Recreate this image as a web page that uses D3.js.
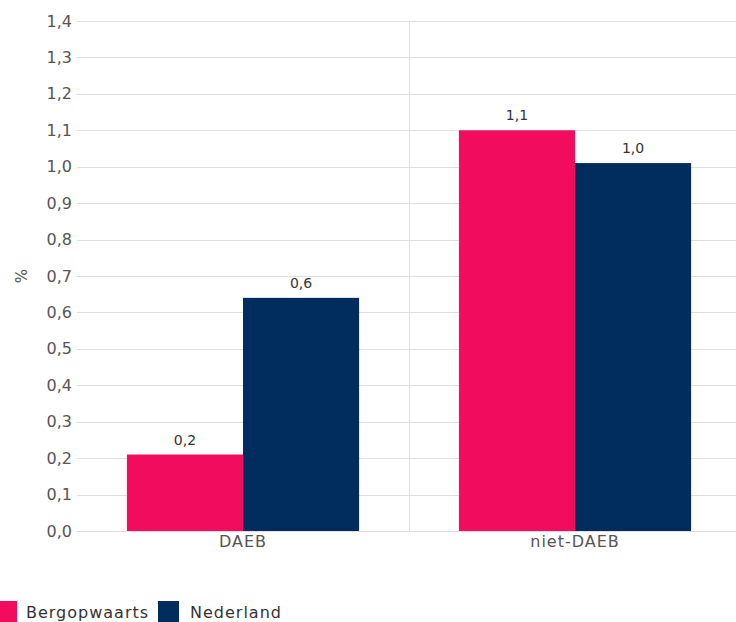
<!DOCTYPE html>
<html>
<head>
<meta charset="utf-8">
<script src="https://cdn.jsdelivr.net/npm/d3@7"></script>
<style>
  body { margin: 0; background: #fff; }
  svg { display: block; font-family: "DejaVu Sans", Verdana, sans-serif; }
</style>
</head>
<body>
<svg id="chart" width="736" height="622"></svg>
<script>
// Categories, series and axis ticks
const categories = ["DAEB", "niet-DAEB"];
const seriesNames = ["Bergopwaarts", "Nederland"];
const bergopwaarts = [0.21, 1.10];
const nederland = [0.64, 1.01];
const yTicks = [0, 0.1, 0.2, 0.3, 0.4, 0.5, 0.6, 0.7, 0.8, 0.9, 1.0, 1.1, 1.2, 1.3, 1.4];
const colors = ["#f20c5e", "#002c5e"];

const rows = categories.map((c, i) => ({ cat: c, values: [bergopwaarts[i], nederland[i]] }));

const svg = d3.select("#chart");
const plot = { left: 77, right: 741, top: 21, bottom: 531 };
const FONT = "DejaVu Sans, Verdana, sans-serif";

const x = d3.scaleBand().domain(categories).range([plot.left, plot.right]);
const xs = d3.scaleBand().domain(seriesNames).range([0, x.bandwidth()]).paddingOuter(0.43).paddingInner(0);
const y = d3.scaleLinear().domain([0, 1.4]).range([plot.bottom, plot.top]);
const fmt = v => d3.format(".1f")(v).replace(".", ",");

// horizontal gridlines
svg.append("g").selectAll("line").data(yTicks).join("line")
  .attr("x1", plot.left).attr("x2", plot.right)
  .attr("y1", d => Math.round(y(d)) + 0.5).attr("y2", d => Math.round(y(d)) + 0.5)
  .attr("stroke", "#e2dede").attr("stroke-width", 1);

// separator between categories
const sepX = Math.round(x("niet-DAEB")) + 0.5;
svg.append("line")
  .attr("x1", sepX).attr("x2", sepX)
  .attr("y1", plot.top).attr("y2", plot.bottom)
  .attr("stroke", "#e2dede");

// y axis labels
const yAxis = d3.axisLeft(y).tickValues(yTicks).tickFormat(fmt).tickSize(0).tickPadding(5);
const gy = svg.append("g").attr("transform", `translate(${plot.left},0)`).call(yAxis);
gy.select(".domain").remove();
gy.selectAll("text").attr("font-size", 16).attr("fill", "#555").attr("font-family", FONT);

// x axis labels
const xAxis = d3.axisBottom(x).tickSize(0).tickPadding(5);
const gx = svg.append("g").attr("transform", `translate(0,${plot.bottom})`).call(xAxis);
gx.select(".domain").remove();
gx.selectAll("text").attr("font-size", 16).attr("letter-spacing", 1).attr("fill", "#555").attr("font-family", FONT);

// axis title
svg.append("text")
  .attr("transform", "translate(27,276) rotate(-90)")
  .attr("text-anchor", "middle")
  .attr("font-size", 15).attr("fill", "#555")
  .text("%");

// bars and value labels
const groups = svg.append("g").selectAll("g").data(rows).join("g")
  .attr("transform", d => `translate(${x(d.cat)},0)`);

groups.selectAll("rect").data(d => d.values.map((v, i) => ({ v, s: seriesNames[i], i })))
  .join("rect")
  .attr("x", d => xs(d.s))
  .attr("width", xs.bandwidth())
  .attr("y", d => y(d.v))
  .attr("height", d => y(0) - y(d.v))
  .attr("fill", d => colors[d.i]);

groups.selectAll("text.val").data(d => d.values.map((v, i) => ({ v, s: seriesNames[i], i })))
  .join("text")
  .attr("class", "val")
  .attr("x", d => xs(d.s) + xs.bandwidth() / 2)
  .attr("y", d => y(d.v) - 10)
  .attr("text-anchor", "middle")
  .attr("font-size", 14).attr("fill", "#333")
  .text(d => fmt(d.v));

// legend
const legend = svg.append("g").attr("transform", "translate(0,601)");
const swatchX = [-4, 158];
const labelX = [26, 190];
seriesNames.forEach((name, i) => {
  legend.append("rect").attr("x", swatchX[i]).attr("y", 0).attr("width", 21).attr("height", 21).attr("fill", colors[i]);
  legend.append("text").attr("x", labelX[i]).attr("y", 17)
    .attr("font-size", 16).attr("letter-spacing", 1).attr("fill", "#333").text(name);
});
</script>
</body>
</html>
